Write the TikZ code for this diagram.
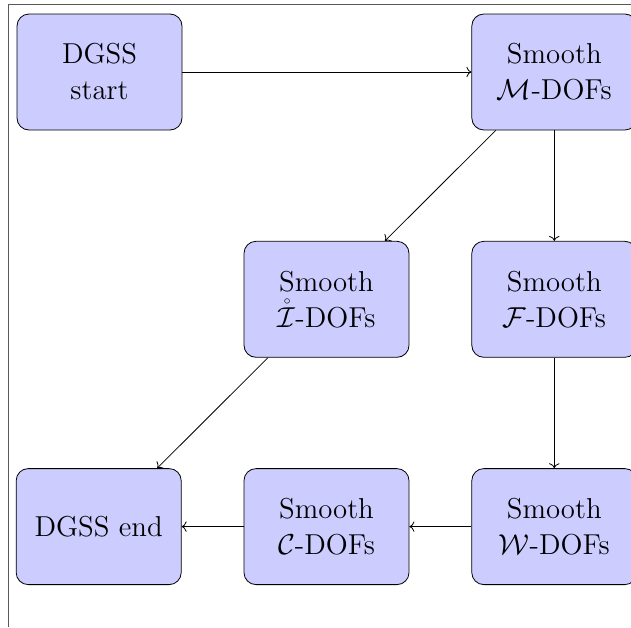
\documentclass[tikz,border=0pt]{standalone}
\usepackage{tikz}
\usetikzlibrary{arrows.meta, positioning}
\usepackage{amsmath, amssymb}

\tikzset{
  smoothbox/.style={draw, rounded corners=6pt, fill=blue!20, font=\Large,
    align=center, minimum width=82.5pt, minimum height=58pt, inner sep=2pt},
  flow/.style={->}
}

\begin{document}
\begin{tikzpicture}
  \useasboundingbox (0,0) rectangle (315.5pt,-313.5pt);
  % frame (only its top and left sides are on the page)
  \draw[gray!70!black] (4pt,-313.5pt) -- (4pt,-2pt) -- (315.5pt,-2pt);

  \node[smoothbox] (start) at (49.75pt,-36pt) {DGSS\\start};
  \node[smoothbox, right=144.5pt of start] (Mdof) {Smooth\\$\mathcal{M}$-DOFs};
  \node[smoothbox, below=55.25pt of Mdof] (Fdof) {Smooth\\$\mathcal{F}$-DOFs};
  \node[smoothbox, left=31pt of Fdof] (Idof) {Smooth\\$\mathring{\mathcal{I}}$-DOFs};
  \node[smoothbox, below=55.25pt of Fdof] (Wdof) {Smooth\\$\mathcal{W}$-DOFs};
  \node[smoothbox, left=31pt of Wdof] (Cdof) {Smooth\\$\mathcal{C}$-DOFs};
  \node[smoothbox, left=31pt of Cdof] (finish) {DGSS end};

  \draw[flow] (start) -- (Mdof);
  \draw[flow] (Mdof) -- (Idof);
  \draw[flow] (Mdof) -- (Fdof);
  \draw[flow] (Idof) -- (finish);
  \draw[flow] (Fdof) -- (Wdof);
  \draw[flow] (Wdof) -- (Cdof);
  \draw[flow] (Cdof) -- (finish);
\end{tikzpicture}
\end{document}
